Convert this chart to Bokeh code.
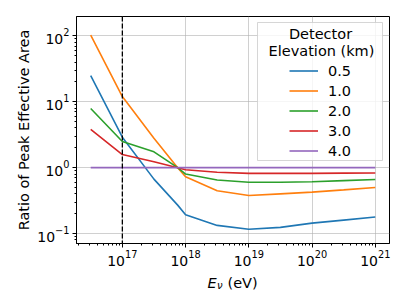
from bokeh.plotting import figure
from bokeh.layouts import column
from bokeh.models import (Range1d, Span, Label, Legend, LegendItem,
                          LogTicker, LogTickFormatter, BoxAnnotation)
from bokeh.embed import file_html
from bokeh.resources import INLINE

# ---- data ----
energy_ev = [3.16e16, 1e17, 3.16e17, 7.5e17, 1e18, 3.16e18, 1e19, 3.16e19, 1e20, 3.16e20, 1e21]
ratio_0_5 = [25.0, 2.9, 0.67, 0.27, 0.193, 0.133, 0.116, 0.124, 0.144, 0.16, 0.178]
ratio_1_0 = [103.0, 12.0, 2.8, 1.0, 0.73, 0.445, 0.377, 0.40, 0.425, 0.46, 0.50]
ratio_2_0 = [7.9, 2.5, 1.74, 1.0, 0.80, 0.65, 0.60, 0.60, 0.61, 0.635, 0.66]
ratio_3_0 = [3.8, 1.58, 1.23, 1.0, 0.93, 0.85, 0.82, 0.82, 0.82, 0.825, 0.83]
ratio_4_0 = [1.0, 1.0, 1.0, 1.0, 1.0, 1.0, 1.0, 1.0, 1.0, 1.0, 1.0]
elevation_labels = ["0.5", "1.0", "2.0", "3.0", "4.0"]
legend_title_lines = ["Detector", "Elevation (km)"]
x_label_parts = ["E", "\u03bd", "(eV)"]
threshold_energy = 1e17

series = [ratio_0_5, ratio_1_0, ratio_2_0, ratio_3_0, ratio_4_0]
colors = ["#1f77b4", "#ff7f0e", "#2ca02c", "#d62728", "#9467bd"]

FONT = "DejaVu Sans"

p = figure(width=399, height=268,
           x_axis_type="log", y_axis_type="log",
           x_range=Range1d(10 ** 16.275, 10 ** 21.225),
           y_range=Range1d(10 ** -1.151, 10 ** 2.294),
           output_backend="svg", toolbar_location=None,
           min_border_left=76, min_border_right=10,
           min_border_top=16, min_border_bottom=24)

p.background_fill_color = "white"
p.border_fill_color = "white"
p.outline_line_color = "black"
p.outline_line_width = 1
p.outline_line_alpha = 1.0

# grid
for g in (p.xgrid, p.ygrid):
    g.grid_line_color = "#b0b0b0"
    g.grid_line_alpha = 0.6
    g.grid_line_width = 1
    g.minor_grid_line_color = None

# axes
for ax in (p.xaxis, p.yaxis):
    ax.ticker = LogTicker(num_minor_ticks=10)
    ax.formatter = LogTickFormatter()
    ax.axis_line_color = "black"
    ax.major_tick_line_color = "black"
    ax.minor_tick_line_color = "black"
    ax.major_tick_out = 4
    ax.major_tick_in = 0
    ax.minor_tick_out = 2
    ax.minor_tick_in = 0
    ax.major_label_text_font = FONT
    ax.major_label_text_font_size = "14px"
    ax.major_label_text_color = "black"
    ax.major_label_standoff = 3
p.xaxis.major_label_standoff = 2

p.yaxis.axis_label = "Ratio of Peak Effective Area"
p.yaxis.axis_label_text_font = FONT
p.yaxis.axis_label_text_font_size = "14.5px"
p.yaxis.axis_label_text_font_style = "normal"
p.yaxis.axis_label_text_color = "black"
p.yaxis.axis_label_standoff = 2

# lines
renderers = []
for ys, c in zip(series, colors):
    r = p.line(energy_ev, ys, line_color=c, line_width=1.6)
    renderers.append(r)

# vertical dashed line
p.add_layout(Span(location=threshold_energy, dimension="height",
                  line_color="black", line_dash="5 2", line_width=1.3))

# legend frame (screen units, relative to plot frame)
p.add_layout(BoxAnnotation(left=181, right=306, top=221, bottom=83,
                           left_units="screen", right_units="screen",
                           top_units="screen", bottom_units="screen",
                           fill_color="white", fill_alpha=0.8,
                           line_color="#cccccc", line_alpha=0.8, line_width=1))
# legend title (centred, two lines)
p.add_layout(Label(x=244, y=209.5, x_units="screen", y_units="screen",
                   text=legend_title_lines[0], text_font=FONT, text_font_size="14.5px",
                   text_align="center", text_baseline="middle", text_color="black"))
p.add_layout(Label(x=245, y=192.3, x_units="screen", y_units="screen",
                   text=legend_title_lines[1], text_font=FONT, text_font_size="14.5px",
                   text_align="center", text_baseline="middle", text_color="black"))

# legend entries
items = [LegendItem(label=lab, renderers=[r]) for lab, r in zip(elevation_labels, renderers)]
legend = Legend(items=items, location=(213, 84), margin=0, padding=0,
                label_text_font=FONT, label_text_font_size="14.5px", label_text_color="black",
                glyph_width=29, glyph_height=17, label_height=17, spacing=3,
                label_standoff=10,
                background_fill_alpha=0.0, border_line_color=None)
p.add_layout(legend)

# x-axis title strip: E_nu (eV); its frame is aligned with the main frame,
# so the strip's x range spans the main frame's pixel extent
q = figure(width=399, height=29, x_range=Range1d(76, 389), y_range=Range1d(0, 29),
           output_backend="svg", toolbar_location=None,
           x_axis_location=None, y_axis_location=None, min_border=0)
q.grid.visible = False
q.outline_line_color = None
q.background_fill_color = "white"
q.border_fill_color = "white"
q.add_layout(Label(x=207, y=15, text=x_label_parts[0],
                   text_font=FONT, text_font_size="14.5px", text_font_style="italic",
                   text_baseline="alphabetic", text_align="left", text_color="black"))
q.add_layout(Label(x=216.5, y=12, text=x_label_parts[1],
                   text_font=FONT, text_font_size="10px", text_font_style="italic",
                   text_baseline="alphabetic", text_align="left", text_color="black"))
q.add_layout(Label(x=227, y=15, text=x_label_parts[2],
                   text_font=FONT, text_font_size="14.5px",
                   text_baseline="alphabetic", text_align="left", text_color="black"))

layout = column(p, q, spacing=0)
open("out.html", "w").write(file_html(layout, INLINE))
